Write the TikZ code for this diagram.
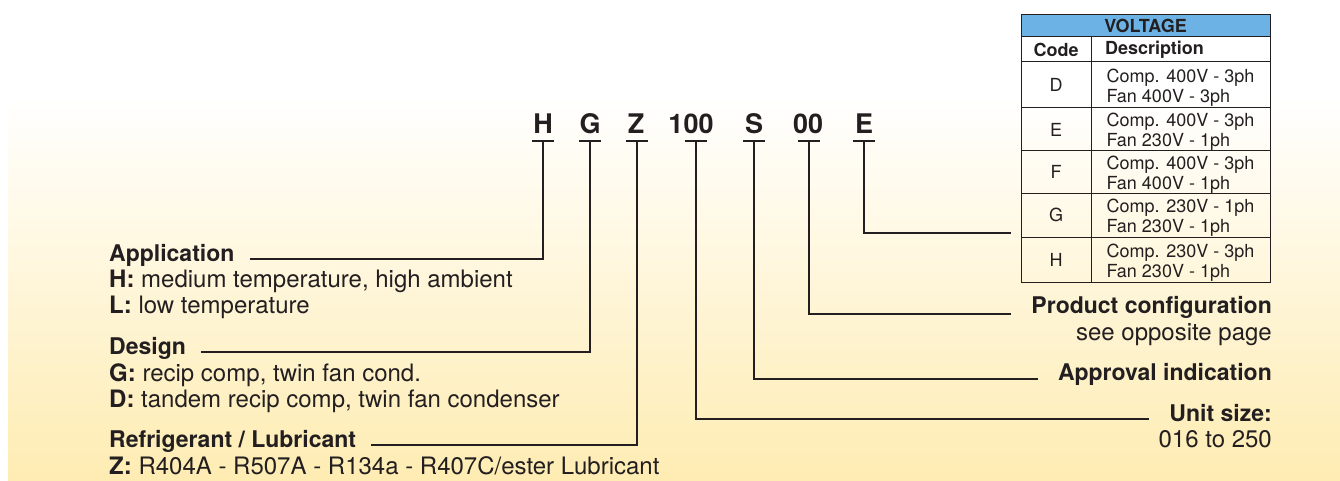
\documentclass[tikz,border=0pt]{standalone}
\usepackage{fontspec}
\setmainfont{TeX Gyre Heros}
\usetikzlibrary{calc,positioning}
\definecolor{ink}{RGB}{35,31,32}
\definecolor{headblue}{RGB}{108,178,228}
\definecolor{cream}{RGB}{254,236,178}

\begin{document}
\begin{tikzpicture}[x=1pt,y=-1pt,
  code/.style={anchor=base,inner sep=0pt,text=ink,font=\fontsize{27}{27}\selectfont\bfseries},
  head/.style={inner sep=0pt,text=ink,font=\fontsize{23}{26}\selectfont\bfseries},
  body/.style={anchor=base west,inner sep=0pt,text=ink,font=\fontsize{24}{26}\selectfont},
  link/.style={draw=ink,line width=2.6pt},
  cell/.style={draw=ink,line width=1pt,inner sep=0pt,outer sep=0pt,anchor=north west,text=ink,font=\fontsize{18}{20}\selectfont},
  desc/.style={cell,align=left,minimum width=179pt}]
\useasboundingbox (0,0) rectangle (1340,481);
\shade[top color=white,bottom color=cream] (8,97) rectangle (1340,481);

% model code
\foreach \t/\tx/\bx/\n in {H/543/543/H,G/590/590/G,Z/636/637/Z,100/691/696/N,S/754/754/S,00/808/809/O,E/864/864/E}{
  \node[code] (c\n) at (\tx,134) {\t};
  \coordinate (b\n) at (\bx,141);
  \draw[link] ([xshift=-11pt]b\n) -- ([xshift=11pt]b\n);
}

% left column
\node[head,anchor=base west] (appl) at (109,261) {Application};
\node[body] (applH) at (109,287) {\textbf{H:} medium temperature, high ambient};
\node[body] (applL) at (109,313) {\textbf{L:} low temperature};
\node[head,anchor=base west] (desg) at (109,354) {Design};
\node[body] (desgG) at (109,381) {\textbf{G:} recip comp, twin fan cond.};
\node[body] (desgD) at (109,407) {\textbf{D:} tandem recip comp, twin fan condenser};
\node[head,anchor=base west] (refr) at (109,447) {Refrigerant / Lubricant};
\node[body] (refrZ) at (109,474) {\textbf{Z:} R404A - R507A - R134a - R407C/ester Lubricant};

% right column
\node[head,anchor=base east] (prod) at (1272,313) {Product configuration};
\node[body,anchor=base east] (prodS) at (1272,340) {see opposite page};
\node[head,anchor=base east] (appr) at (1272,380) {Approval indication};
\node[head,anchor=base east] (unit) at (1272,421) {Unit size:};
\node[body,anchor=base east] (unitR) at (1272,447) {016 to 250};

% voltage table
\node[cell,fill=headblue,minimum width=249pt,minimum height=22pt,font=\fontsize{18}{20}\selectfont\bfseries] (volt) at (1021,15) {VOLTAGE};
\node[cell,minimum width=70pt,minimum height=25pt,font=\fontsize{18}{20}\selectfont\bfseries] (hcode) at (1021,37) {Code};
\node[desc,inner xsep=14pt,text width=151pt,minimum height=25pt,font=\fontsize{18}{20}\selectfont\bfseries] (hdesc) at (1091,37) {Description};
\foreach \c/\y/\h/\top/\bot in {D/62/46/{Comp. 400V - 3ph}/{Fan 400V - 3ph},
    E/108/43/{Comp. 400V - 3ph}/{Fan 230V - 1ph},
    F/151/42/{Comp. 400V - 3ph}/{Fan 400V - 1ph},
    G/193/44/{Comp. 230V - 1ph}/{Fan 230V - 1ph},
    H/237/45/{Comp. 230V - 3ph}/{Fan 230V - 1ph}}{
  \node[cell,minimum width=70pt,minimum height=\h pt] (code\c) at (1021,\y) {\c};
  \node[desc,text height=38pt,text depth=3pt,minimum height=\h pt] (desc\c) at (1091,\y) {\top\\\bot};
}
\coordinate (tabE) at (1011,233);

% connectors
\draw[link] (bH) |- ([xshift=15pt,yshift=2pt]appl.base east);
\draw[link] (bG) |- ([xshift=15pt,yshift=2pt]desg.base east);
\draw[link] (bZ) |- ([xshift=15pt,yshift=2pt]refr.base east);
\draw[link] (bN) |- ([xshift=-20pt,yshift=2pt]unit.base west);
\draw[link] (bS) |- ([xshift=-20pt,yshift=1pt]appr.base west);
\draw[link] (bO) |- ([xshift=-20pt,yshift=-1pt]prod.base west);
\draw[link] (bE) |- (tabE);
\end{tikzpicture}
\end{document}
